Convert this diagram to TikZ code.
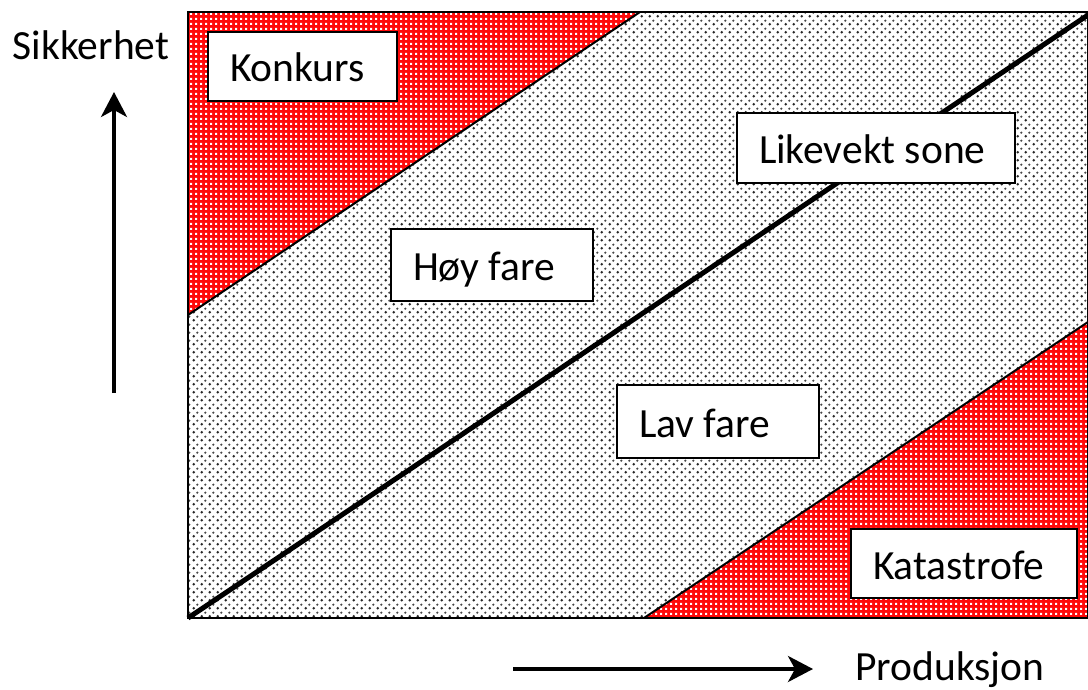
\documentclass[tikz,border=0pt]{standalone}
\usepackage{fontspec}
\setmainfont{Carlito}
\usetikzlibrary{arrows.meta,patterns.meta}
\definecolor{alarm}{HTML}{FF0A0A}
\definecolor{dotgray}{HTML}{262626}

% white check laid over the red zones
\tikzdeclarepattern{
  name=whitecheck,
  bottom left={(0pt,0pt)}, top right={(5pt,5pt)}, tile size={(5pt,5pt)},
  code={
    \fill (0pt,0pt) rectangle (2.6pt,2.6pt);
  }
}
% dot raster for the middle band
\tikzdeclarepattern{
  name=dotraster, type=colored,
  bottom left={(0pt,0pt)}, top right={(8pt,8pt)}, tile size={(8pt,8pt)},
  code={
    \fill[dotgray] (2pt,2pt) circle (1.5pt);
    \fill[dotgray!85] (6pt,6pt) circle (1.4pt);
  }
}

\tikzset{
  zone/.style={draw, fill=white, line width=2.5pt, inner ysep=0pt, inner xsep=22pt,
    align=flush left, text height=31pt, text depth=0pt,
    font=\fontsize{41.5}{48}\selectfont},
  axislabel/.style={font=\fontsize{41.5}{48}\selectfont},
  axis/.style={line width=3.5pt, -{Stealth[length=25pt,width=26pt,inset=7pt]}}
}

\begin{document}
\begin{tikzpicture}[x=1pt,y=-1pt]
  \useasboundingbox (0,0) rectangle (1088,690);

  % frame corners
  \coordinate (sw) at (188,618);
  \coordinate (nw) at (188,12);
  \coordinate (ne) at (1088,12);
  \coordinate (se) at (1088,618);

  % middle band
  \fill[white] (sw) rectangle (ne);
  \fill[pattern=dotraster] (sw) rectangle (ne);

  % Konkurs corner
  \coordinate (kt) at (640,12);
  \coordinate (kl) at (188,315);
  \fill[alarm] (nw) -- (kt) -- (kl) -- cycle;
  \fill[pattern=whitecheck, pattern color=white] (nw) -- (kt) -- (kl) -- cycle;
  \draw[line width=2pt] (kl) -- (kt);

  % Katastrofe corner
  \coordinate (cb) at (644,618);
  \coordinate (cr) at (1088,322);
  \fill[alarm] (se) -- (cb) -- (cr) -- cycle;
  \fill[pattern=whitecheck, pattern color=white] (se) -- (cb) -- (cr) -- cycle;
  \draw[line width=2pt] (cb) -- (cr);

  % equilibrium line
  \draw[line width=5pt] (sw) -- (1088,15);

  \draw[line width=2pt] (sw) rectangle (ne);

  % zone labels
  \node[zone, text width=145pt, minimum height=69pt] (konkurs) at (302.5,66.5) {Konkurs};
  \node[zone, text width=234pt, minimum height=70pt] (likevekt) at (876,148) {Likevekt sone};
  \node[zone, text width=158pt, minimum height=72pt] (hoy) at (492,265) {Høy fare};
  \node[zone, text width=158pt, minimum height=73pt] (lav) at (718,421.5) {Lav fare};
  \node[zone, text width=182pt, minimum height=69pt] (katastrofe) at (964,563.5) {Katastrofe};

  % axes
  \node[axislabel, anchor=base] (sikkerhet) at (91,60) {Sikkerhet};
  \coordinate (yfoot) at (114,393);
  \coordinate (ytip) at (114,92);
  \draw[axis] (yfoot) -- (ytip);

  \node[axislabel, anchor=base] (produksjon) at (950,680) {Produksjon};
  \coordinate (xfoot) at (513,669);
  \coordinate (xtip) at (813,669);
  \draw[axis] (xfoot) -- (xtip);
\end{tikzpicture}
\end{document}
